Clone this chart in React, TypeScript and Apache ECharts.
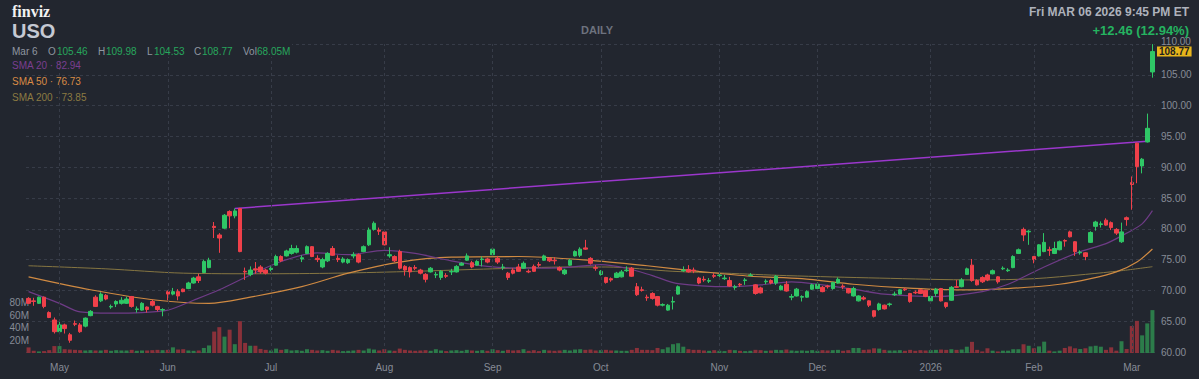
import React, { useEffect, useRef } from "react";
import * as echarts from "echarts";

// ---------- data ----------
const opens = [
  68.7, 68.3, 67.9, 68.9, 66.4, 65.2, 63.3, 64.4, 62.8, 64.6,
  64.4, 64.2, 65.9, 68.9, 68.3, 69.2, 67.3, 67.8, 67.9, 67.9,
  69.0, 66.9, 66.8, 67.3, 68.2, 67.4, 66.8, 69.8, 69.4, 69.8,
  70.2, 70.3, 71.2, 72.2, 72.9, 73.7, 80.4, 79.0, 80.1, 82.8,
  82.1, 83.3, 73.1, 72.6, 73.5, 73.8, 73.3, 73.4, 74.1, 75.5,
  75.6, 76.0, 76.2, 75.1, 76.0, 77.1, 75.2, 73.8, 74.8, 76.8,
  75.2, 74.6, 74.5, 75.6, 75.8, 76.3, 77.4, 79.9, 79.8, 79.5,
  75.6, 75.5, 76.3, 73.9, 73.7, 73.7, 73.3, 72.6, 73.0, 72.5,
  72.1, 72.4, 73.0, 73.0, 74.1, 74.9, 74.5, 74.1, 75.0, 75.1,
  75.8, 75.2, 73.7, 72.8, 73.3, 73.8, 73.6, 73.1, 73.9, 74.2,
  74.9, 75.2, 74.9, 73.7, 72.7, 74.1, 75.6, 75.7, 76.9, 75.2,
  73.7, 72.6, 72.1, 71.9, 72.1, 72.2, 73.2, 73.6, 70.6, 70.1,
  68.9, 69.5, 69.0, 67.6, 66.8, 68.1, 69.4, 73.2, 73.4, 73.3,
  72.0, 71.8, 71.5, 72.4, 72.4, 71.9, 71.6, 70.5, 71.0, 71.6,
  72.4, 70.9, 70.4, 71.4, 71.6, 71.2, 70.1, 71.0, 68.9, 69.1,
  68.9, 68.9, 70.2, 70.3, 70.5, 70.7, 70.3, 71.2, 70.7, 70.3,
  69.1, 68.3, 68.8, 68.3, 66.7, 66.9, 67.6, 67.7, 69.3, 69.4,
  70.2, 69.5, 69.7, 70.1, 70.0, 68.3, 69.5, 70.3, 68.0, 68.4,
  70.6, 70.6, 72.6, 74.1, 71.6, 72.1, 72.5, 72.7, 72.2, 73.5,
  73.2, 73.7, 76.0, 79.9, 79.5, 75.5, 75.6, 76.3, 76.6, 76.0,
  76.6, 78.1, 79.5, 77.9, 76.1, 76.1, 77.8, 80.4, 80.7, 81.4,
  81.0, 79.9, 77.9, 81.8, 87.5, 93.9, 90.2, 94.1, 105.46,
];
const highs = [
  68.9, 68.8, 69.0, 69.0, 66.6, 65.6, 64.9, 64.6, 63.1, 65.1,
  64.7, 65.6, 66.8, 69.2, 69.7, 69.4, 67.7, 68.4, 68.9, 69.0,
  69.1, 67.4, 68.1, 67.4, 68.5, 67.5, 67.1, 70.0, 70.4, 70.2,
  70.3, 71.4, 72.2, 72.7, 75.0, 75.3, 81.1, 79.3, 82.4, 83.0,
  83.3, 83.4, 73.7, 73.9, 74.6, 74.1, 73.5, 73.9, 75.8, 75.7,
  76.6, 77.4, 77.3, 75.7, 77.3, 77.2, 75.7, 75.3, 76.2, 77.2,
  75.7, 75.4, 75.2, 76.2, 76.0, 77.3, 80.2, 81.2, 80.2, 79.7,
  77.0, 75.7, 76.6, 74.1, 73.9, 74.1, 73.5, 72.8, 73.8, 73.0,
  73.3, 72.8, 73.5, 74.1, 74.6, 76.0, 74.8, 74.9, 75.5, 75.3,
  77.0, 75.6, 74.3, 73.0, 73.6, 74.3, 74.7, 73.4, 74.2, 74.6,
  75.8, 75.4, 75.4, 73.9, 73.5, 75.1, 76.5, 77.0, 78.2, 75.4,
  74.1, 73.3, 72.2, 72.1, 73.0, 73.3, 73.9, 73.8, 71.2, 70.6,
  69.3, 69.7, 69.1, 67.9, 67.8, 69.0, 70.8, 73.9, 74.1, 73.7,
  72.2, 72.3, 72.0, 72.8, 72.9, 72.5, 72.2, 70.9, 71.2, 72.0,
  72.8, 71.0, 70.6, 71.8, 71.8, 72.5, 70.9, 71.5, 69.4, 70.4,
  69.2, 70.0, 71.1, 71.3, 70.7, 70.9, 71.4, 72.1, 71.0, 70.4,
  70.6, 69.2, 69.1, 68.4, 66.8, 68.0, 67.7, 68.0, 69.8, 70.2,
  70.4, 69.6, 70.0, 70.2, 70.1, 69.1, 70.4, 70.4, 68.1, 70.7,
  71.7, 72.0, 73.7, 75.1, 71.8, 72.3, 72.7, 73.4, 72.3, 73.9,
  73.6, 75.7, 76.8, 80.2, 79.8, 75.6, 77.5, 79.3, 77.1, 77.9,
  78.1, 78.3, 79.7, 78.0, 76.5, 76.2, 79.6, 81.3, 81.2, 81.7,
  81.2, 80.1, 81.0, 82.0, 88.5, 94.0, 91.5, 98.7, 109.98,
];
const lows = [
  67.8, 67.5, 67.8, 67.1, 65.5, 63.0, 62.9, 63.0, 61.5, 64.2,
  63.1, 64.0, 65.8, 67.3, 68.1, 68.4, 67.0, 67.3, 67.7, 67.8,
  67.2, 66.4, 66.7, 66.4, 67.4, 66.6, 65.8, 68.4, 69.2, 68.4,
  69.7, 70.2, 71.1, 71.2, 72.8, 73.6, 78.5, 76.1, 80.0, 80.1,
  81.7, 76.2, 71.7, 72.3, 72.7, 72.7, 72.6, 73.1, 74.0, 74.6,
  75.5, 75.8, 76.0, 74.6, 75.9, 75.4, 74.6, 73.6, 74.6, 75.6,
  74.6, 74.4, 74.3, 75.2, 74.4, 76.2, 77.2, 79.7, 79.0, 77.3,
  75.3, 74.6, 73.4, 72.4, 72.1, 73.3, 72.6, 71.3, 72.9, 72.0,
  71.7, 72.0, 72.5, 72.9, 74.0, 74.8, 73.6, 74.0, 73.9, 74.4,
  75.7, 74.3, 73.3, 71.7, 72.6, 73.0, 73.5, 72.8, 73.0, 73.8,
  74.8, 74.6, 74.2, 73.1, 72.5, 74.0, 75.5, 75.4, 76.6, 74.2,
  73.2, 72.4, 71.1, 71.4, 72.0, 72.1, 73.0, 72.2, 69.1, 69.8,
  68.3, 68.5, 67.4, 67.4, 66.7, 66.9, 69.3, 73.0, 72.9, 72.8,
  71.0, 71.4, 71.2, 72.0, 72.1, 71.7, 70.6, 70.1, 70.6, 70.9,
  72.3, 69.3, 69.5, 71.0, 71.0, 70.9, 70.0, 69.8, 68.4, 69.0,
  68.2, 68.8, 70.1, 70.2, 69.7, 70.3, 70.1, 71.1, 70.2, 69.5,
  69.0, 68.2, 68.4, 67.3, 65.6, 66.7, 66.9, 67.4, 69.1, 69.3,
  69.9, 68.0, 69.4, 69.4, 68.9, 68.2, 69.0, 68.2, 67.1, 68.3,
  70.4, 70.5, 72.5, 71.4, 70.8, 71.2, 71.5, 72.6, 71.1, 73.3,
  73.0, 73.6, 75.9, 78.0, 77.4, 74.4, 75.5, 76.2, 75.6, 75.9,
  76.5, 77.1, 78.6, 75.6, 75.8, 74.9, 77.7, 79.7, 80.2, 80.5,
  79.8, 79.0, 77.7, 80.5, 83.1, 87.4, 89.0, 94.0, 104.53,
];
const closes = [
  67.9, 68.2, 68.9, 67.4, 65.6, 63.3, 64.4, 63.8, 61.9, 64.5,
  63.3, 65.5, 66.6, 67.4, 69.4, 68.6, 67.4, 68.2, 68.4, 68.6,
  67.4, 67.0, 67.9, 66.9, 67.6, 66.9, 66.9, 69.4, 69.8, 69.1,
  69.8, 71.2, 72.0, 71.6, 74.7, 74.9, 80.2, 78.5, 82.2, 82.1,
  82.9, 76.3, 73.0, 73.3, 73.3, 73.0, 72.8, 73.6, 75.5, 74.8,
  76.4, 76.8, 76.8, 75.3, 77.1, 75.5, 75.0, 75.0, 76.0, 75.7,
  75.0, 75.1, 75.0, 75.8, 74.6, 77.1, 79.8, 80.9, 79.6, 77.4,
  75.8, 74.8, 73.6, 73.3, 73.0, 73.6, 72.8, 71.8, 73.6, 72.6,
  73.1, 72.3, 73.1, 73.9, 74.4, 75.6, 73.8, 74.7, 75.1, 74.6,
  76.7, 74.6, 73.8, 72.1, 72.8, 73.1, 74.4, 73.0, 73.1, 74.1,
  75.6, 74.8, 74.8, 73.3, 73.3, 74.9, 76.3, 76.7, 76.7, 74.4,
  73.6, 73.1, 71.3, 71.7, 72.8, 73.0, 73.3, 72.3, 69.3, 70.0,
  68.8, 68.7, 67.6, 67.7, 67.6, 68.2, 70.6, 73.3, 73.0, 73.2,
  71.2, 71.7, 71.6, 72.3, 72.5, 72.0, 70.7, 70.6, 70.9, 71.7,
  72.5, 69.5, 69.6, 71.5, 71.2, 72.3, 70.7, 69.9, 69.0, 70.2,
  69.0, 69.8, 70.9, 71.0, 69.8, 70.6, 71.3, 71.8, 70.6, 69.6,
  70.3, 69.1, 68.6, 67.6, 65.8, 67.8, 67.0, 67.8, 69.4, 70.1,
  70.1, 68.2, 69.6, 69.5, 69.0, 69.0, 70.2, 68.3, 67.4, 70.5,
  70.5, 71.7, 73.5, 71.6, 70.9, 71.4, 71.7, 73.2, 71.4, 73.6,
  73.3, 75.5, 76.6, 79.0, 79.6, 75.0, 77.4, 77.8, 76.5, 76.8,
  77.9, 78.0, 78.7, 76.3, 76.2, 75.5, 79.4, 81.1, 80.8, 80.6,
  80.2, 79.3, 79.5, 81.5, 87.2, 90.1, 91.3, 96.31, 108.77,
];
// volume, millions of shares
const volumes = [
  8.9, 3.7, 2.5, 3.0, 4.5, 11, 11, 6, 5.5, 5,
  4.5, 4, 4.5, 4, 4, 5, 3.5, 4.5, 4, 4,
  5, 3.5, 4, 4, 4.5, 5, 4.5, 5, 9, 5.5,
  6, 4, 3.5, 4, 8, 12, 34, 41, 26, 37,
  14, 50.5, 16, 11.5, 11.5, 6.5, 5, 4, 7, 5,
  6, 4, 4.5, 3.5, 6, 5, 4, 4.5, 3.5, 5,
  4, 3, 3.5, 4, 5, 4, 7, 5.5, 4, 6,
  4, 3.5, 7, 5, 4, 3.5, 4, 4.5, 3.5, 6,
  4, 3, 4, 4.5, 3.5, 5, 4, 3.5, 4.5, 3.5,
  6, 4.5, 3.5, 5, 4, 4.5, 6, 3.5, 4.5, 3,
  5, 4, 3.5, 4, 5, 4, 5.5, 6, 5, 5.5,
  4, 4.5, 5, 4, 4, 3.5, 3.5, 5, 8, 5,
  5, 4.5, 8, 6, 9, 14, 15.5, 10, 6, 5,
  5, 4, 3.5, 4.5, 3.5, 3, 5, 4.5, 3.5, 3,
  3.5, 5, 4.5, 3.5, 4, 5, 4.5, 5.5, 4, 3.5,
  4, 3.5, 4.5, 3.5, 4.5, 4, 4.5, 5, 3.5, 4.5,
  8, 8, 5, 5.5, 7.5, 7, 5, 4, 4, 4.5,
  3.5, 5, 3.5, 4.5, 4, 4.5, 5, 5.5, 5, 6,
  5, 5.5, 10, 17.7, 5, 2.5, 7.5, 3.7, 2.5, 3.7,
  3.7, 6, 6, 14, 11.5, 7.5, 10.5, 18, 3.7, 2.5,
  3.7, 8, 10.5, 7.5, 6.3, 7.5, 10.5, 11.5, 10, 5,
  9, 3.7, 18.7, 6.3, 42.8, 51, 28, 47, 68.05,
];
// moving averages read at sample points: [candle index, value]
const sma20Points = [
  [0, 69.8], [6, 67.9], [10, 66.5], [16, 66.3], [22, 66.4], [27, 66.8], [32, 68.4],
  [37, 70.1], [43, 72.5], [49, 74.7], [56, 76.1], [62, 75.8], [69, 76.5], [75, 76.0],
  [82, 74.8], [89, 73.9], [96, 73.6], [104, 73.7], [111, 74.2], [116, 73.6], [121, 72.4],
  [126, 71.1], [136, 70.6], [142, 70.9], [148, 71.4], [154, 70.9], [160, 70.2], [166, 69.4],
  [176, 69.0], [185, 69.8], [190, 71.0], [197, 73.8], [204, 76.3], [209, 77.6], [213, 79.3],
  [216, 80.8], [218, 82.94],
];
const sma50Points = [
  [0, 72.2], [12, 70.1], [25, 68.4], [35, 67.9], [43, 68.9], [53, 70.6], [62, 72.8],
  [72, 74.6], [82, 75.4], [95, 75.5], [110, 74.8], [120, 74.0], [130, 73.1], [140, 72.3],
  [150, 71.9], [160, 71.0], [170, 70.4], [180, 70.1], [190, 70.3], [200, 71.0], [206, 71.9],
  [211, 73.0], [215, 74.6], [218, 76.73],
];
const sma200Points = [
  [0, 74.0], [15, 73.5], [30, 72.8], [45, 72.7], [60, 72.8], [75, 73.1], [90, 73.5],
  [105, 73.8], [112, 73.8], [125, 73.1], [135, 72.8], [147, 72.4], [165, 72.0], [184, 71.7],
  [195, 71.9], [205, 72.6], [212, 73.2], [218, 73.85],
];
const trendPoints = [[40, 83.3], [217, 94.2]];
const monthTicks: [number, string][] = [
  [6, "May"], [27, "Jun"], [47, "Jul"], [69, "Aug"], [90, "Sep"], [111, "Oct"],
  [134, "Nov"], [153, "Dec"], [175, "2026"], [195, "Feb"], [214, "Mar"],
];
const holidays = [
  "2025-05-26", "2025-06-19", "2025-07-04", "2025-09-01", "2025-11-27",
  "2025-12-25", "2026-01-01", "2026-01-19", "2026-02-16",
];

// ---------- style ----------
const BG = "#22262f";
const GRID = "#373c48";
const AXIS_TXT = "#878c97";
const UP = "#2fc766";
const DOWN = "#f0404a";
const VOL_UP = "#2c7c4a";
const VOL_DOWN = "#8a313a";
const C_SMA20 = "#6e3b86";
const C_SMA50 = "#d08a42";
const C_SMA200 = "#867642";
const C_TREND = "#9b37cc";
const FONT = "'Liberation Sans', Arial, sans-serif";

function tradingDays(start: string, end: string): string[] {
  const out: string[] = [];
  const d = new Date(start + "T00:00:00Z");
  const e = new Date(end + "T00:00:00Z");
  while (d <= e) {
    const wd = d.getUTCDay();
    const s = d.toISOString().slice(0, 10);
    if (wd !== 0 && wd !== 6 && !holidays.includes(s)) out.push(s);
    d.setUTCDate(d.getUTCDate() + 1);
  }
  return out;
}

export default function App() {
  const ref = useRef<HTMLDivElement>(null);
  useEffect(() => {
    document.body.style.margin = "0";
    document.body.style.background = BG;
    if (!ref.current) return;
    const chart = echarts.init(ref.current, undefined, { renderer: "svg" });
    const dates = tradingDays("2025-04-23", "2026-03-06");
    const monthIdx = new Map<number, string>(monthTicks);

    const candleData = opens.map((o, i) => [o, closes[i], lows[i], highs[i]]);
    const volData = volumes.map((v, i) => ({
      value: v,
      itemStyle: { color: closes[i] >= opens[i] ? VOL_UP : VOL_DOWN },
    }));

    const txt = (x: number, y: number, text: string, fill: string, size: number, weight = "normal", align = "left", family = FONT, lineHeight?: number) => ({
      type: "text",
      x,
      y,
      z: 101,
      style: {
        text, fill, fontSize: size, fontWeight: weight, fontFamily: family, align, verticalAlign: "middle",
        ...(lineHeight ? { lineHeight } : {}),
      },
    });

    const option: any = {
      animation: false,
      backgroundColor: BG,
      grid: [
        { left: 26, right: 44, top: 44, height: 308 },
        { left: 26, right: 44, top: 290, height: 63 },
      ],
      xAxis: [
        {
          type: "category", gridIndex: 0, data: dates, boundaryGap: true,
          axisLine: { show: false }, axisTick: { show: false }, axisLabel: { show: false },
          splitLine: { show: false },
        },
        {
          type: "category", gridIndex: 1, data: dates, boundaryGap: true,
          axisLine: { show: false }, axisTick: { show: false }, splitLine: { show: false },
          axisLabel: {
            color: AXIS_TXT, fontSize: 10, fontFamily: FONT, margin: 9,
            interval: (i: number) => monthIdx.has(i),
            formatter: (_v: string, i: number) => monthIdx.get(i) || "",
          },
        },
      ],
      yAxis: [
        {
          type: "value", gridIndex: 0, position: "right", min: 60, max: 110, interval: 5,
          axisLine: { show: false }, axisTick: { show: false },
          axisLabel: {
            color: AXIS_TXT, fontSize: 10, fontFamily: FONT, margin: 6,
            formatter: (v: number) => (v === 110 ? "{top|110.00}" : v.toFixed(2)),
            rich: { top: { color: AXIS_TXT, fontSize: 10, fontFamily: FONT, lineHeight: 10, padding: [0, 0, 5, 0] } },
          },
          splitLine: { show: true, lineStyle: { color: GRID, type: [3, 3], width: 1 } },
        },
        {
          type: "value", gridIndex: 1, position: "left", min: 0, max: 100, interval: 20,
          axisLine: { show: false }, axisTick: { show: false }, splitLine: { show: false },
          axisLabel: {
            color: AXIS_TXT, fontSize: 10, fontFamily: FONT, margin: -3,
            formatter: (v: number) => (v === 0 || v === 100 ? "" : v + "M"),
          },
        },
      ],
      series: [
        {
          type: "bar", xAxisIndex: 1, yAxisIndex: 1, data: volData, barWidth: 4, z: 1, silent: true,
        },
        {
          type: "line", xAxisIndex: 0, yAxisIndex: 0, data: sma200Points, showSymbol: false, smooth: 0.3,
          lineStyle: { color: C_SMA200, width: 1 }, z: 2, silent: true,
          markLine: {
            silent: true, symbol: ["none", "none"], label: { show: false },
            lineStyle: { color: GRID, type: [3, 3], width: 1 },
            data: monthTicks.map(([i]) => ({ xAxis: i })),
          },
        },
        {
          type: "line", xAxisIndex: 0, yAxisIndex: 0, data: sma50Points, showSymbol: false, smooth: 0.3,
          lineStyle: { color: C_SMA50, width: 1.2 }, z: 2, silent: true,
        },
        {
          type: "line", xAxisIndex: 0, yAxisIndex: 0, data: sma20Points, showSymbol: false, smooth: 0.3,
          lineStyle: { color: C_SMA20, width: 1.2 }, z: 2, silent: true,
        },
        {
          type: "line", xAxisIndex: 0, yAxisIndex: 0, data: trendPoints, showSymbol: false,
          lineStyle: { color: C_TREND, width: 1.5 }, z: 3, silent: true,
        },
        {
          type: "candlestick", xAxisIndex: 0, yAxisIndex: 0, data: candleData, barWidth: 4, z: 4,
          itemStyle: { color: UP, color0: DOWN, borderColor: UP, borderColor0: DOWN, borderWidth: 1 },
          markLine: {
            silent: true, symbol: ["none", "none"],
            lineStyle: { color: "transparent", width: 0 },
            data: [{ yAxis: 108.77 }],
            label: {
              show: true, position: "end", formatter: "108.77", distance: 2,
              backgroundColor: "#e8b51c", color: "#1e1e1e", fontSize: 10, fontWeight: "bold",
              fontFamily: FONT, padding: [0, 2, 0, 2], lineHeight: 10,
            },
          },
        },
      ],
      graphic: [
        { type: "rect", z: 100, shape: { x: 0, y: 0, width: 292, height: 57 }, style: { fill: BG } },
        txt(12, 11, "finviz", "#f2f2f2", 16, "bold", "left", "'Liberation Serif', serif"),
        txt(12, 31, "USO", "#c5c9d3", 20, "bold"),
        txt(12, 51, "Mar 6", "#9096a1", 10),
        txt(48, 51, "O", "#9096a1", 10),
        txt(57, 51, "105.46", "#27a75d", 10),
        txt(98, 51, "H", "#9096a1", 10),
        txt(106, 51, "109.98", "#27a75d", 10),
        txt(147, 51, "L", "#9096a1", 10),
        txt(154, 51, "104.53", "#27a75d", 10),
        txt(194, 51, "C", "#9096a1", 10),
        txt(202, 51, "108.77", "#27a75d", 10),
        txt(243, 51, "Vol", "#9096a1", 10),
        txt(257, 51, "68.05M", "#27a75d", 10),
        txt(12, 65, "SMA 20 · 82.94", "#7a3e90", 10),
        txt(12, 81, "SMA 50 · 76.73", "#d98b45", 10),
        txt(12, 97, "SMA 200 · 73.85", "#8c7b42", 10),
        txt(597, 30, "DAILY", "#6d727e", 11, "bold", "center"),
        txt(1189, 12, "Fri MAR 06 2026 9:45 PM ET", "#aeb2bc", 12, "bold", "right"),
        txt(1189, 30, "+12.46 (12.94%)", "#25b360", 13, "bold", "right", FONT, 12),
      ],
    };
    chart.setOption(option);
    return () => chart.dispose();
  }, []);
  return (
    <div
      ref={ref}
      style={{ position: "fixed", left: 0, top: 0, width: 1199, height: 379, background: BG }}
    />
  );
}
